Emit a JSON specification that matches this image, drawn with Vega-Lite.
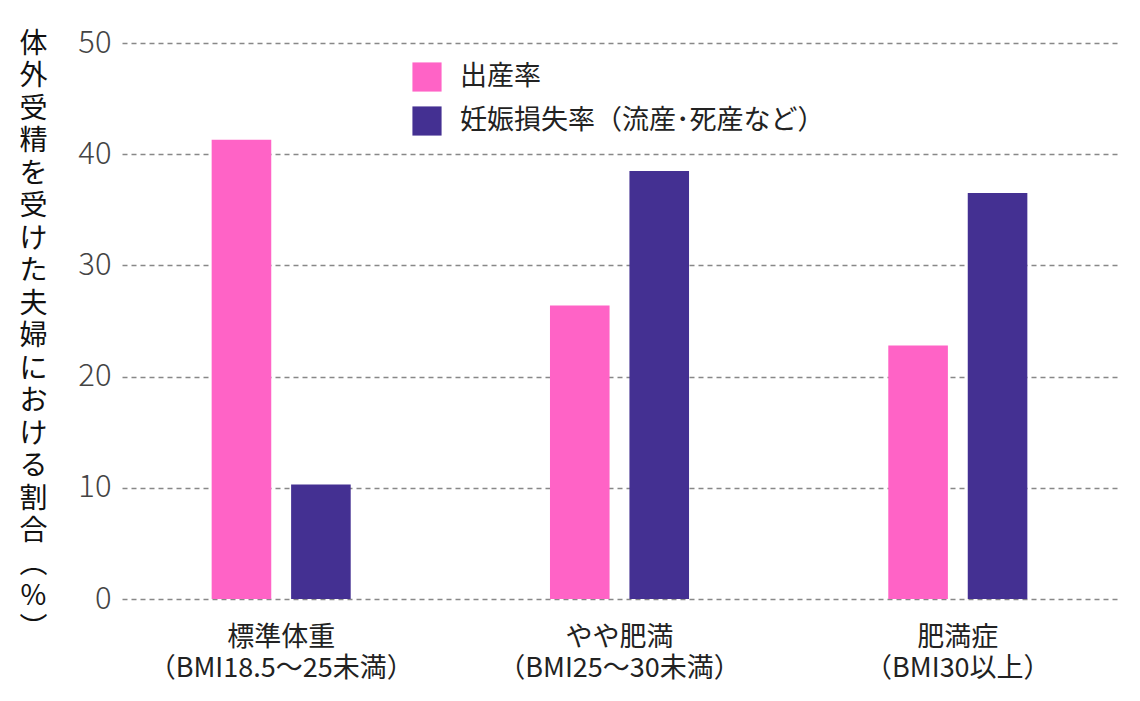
{
  "$schema": "https://vega.github.io/schema/vega-lite/v6.json",
  "autosize": {"type": "none"},
  "width": 995,
  "height": 556,
  "padding": {"left": 122, "top": 43, "right": 23, "bottom": 102},
  "background": "white",
  "config": {
    "view": {"stroke": null},
    "font": "Noto Sans CJK JP"
  },
  "data": {
    "values": [
      {"group": "標準体重|（BMI18.5～25未満）", "series": "出産率", "value": 41.3},
      {"group": "標準体重|（BMI18.5～25未満）", "series": "妊娠損失率（流産･死産など）", "value": 10.3},
      {"group": "やや肥満|（BMI25～30未満）", "series": "出産率", "value": 26.4},
      {"group": "やや肥満|（BMI25～30未満）", "series": "妊娠損失率（流産･死産など）", "value": 38.5},
      {"group": "肥満症|（BMI30以上）", "series": "出産率", "value": 22.8},
      {"group": "肥満症|（BMI30以上）", "series": "妊娠損失率（流産･死産など）", "value": 36.5}
    ]
  },
  "mark": {"type": "bar"},
  "encoding": {
    "x": {
      "field": "group",
      "type": "nominal",
      "sort": null,
      "scale": {"paddingInner": 0.589, "paddingOuter": 0.265},
      "axis": {
        "title": null,
        "labelAngle": 0,
        "labelExpr": "split(datum.label, '|')",
        "labelFontSize": 27,
        "labelColor": "#222222",
        "labelLineHeight": 31,
        "labelPadding": 25,
        "labelBaseline": "top",
        "labelLimit": 600,
        "ticks": false,
        "domain": false
      }
    },
    "xOffset": {
      "field": "series",
      "type": "nominal",
      "sort": ["出産率", "妊娠損失率（流産･死産など）"],
      "scale": {"paddingInner": 0.25}
    },
    "y": {
      "field": "value",
      "type": "quantitative",
      "scale": {"domain": [0, 50]},
      "axis": {
        "values": [0, 10, 20, 30, 40, 50],
        "title": ["体","外","受","精","を","受","け","た","夫","婦","に","お","け","る","割","合","︵","%","︶"],
        "titleAngle": 0,
        "titleAlign": "center",
        "titleBaseline": "top",
        "titleX": -89,
        "titleY": -13,
        "titleFontSize": 28,
        "titleFontWeight": "normal",
        "titleLineHeight": 32.5,
        "titleColor": "#111111",
        "labelFontSize": 31,
        "labelFontWeight": 300,
        "labelColor": "#444444",
        "labelPadding": 11,
        "ticks": false,
        "domain": false,
        "grid": true,
        "gridColor": "#888888",
        "gridDash": [5, 4],
        "gridWidth": 1.5
      }
    },
    "color": {
      "field": "series",
      "type": "nominal",
      "sort": ["出産率", "妊娠損失率（流産･死産など）"],
      "scale": {"range": ["#FF63C6", "#443092"]},
      "legend": {
        "title": null,
        "orient": "none",
        "legendX": 290,
        "legendY": 19,
        "symbolType": "square",
        "symbolSize": 850,
        "symbolStrokeWidth": 0,
        "symbolOpacity": 1,
        "labelFontSize": 27,
        "labelColor": "#222222",
        "labelOffset": 18,
        "rowPadding": 14,
        "labelLimit": 600
      }
    }
  }
}
